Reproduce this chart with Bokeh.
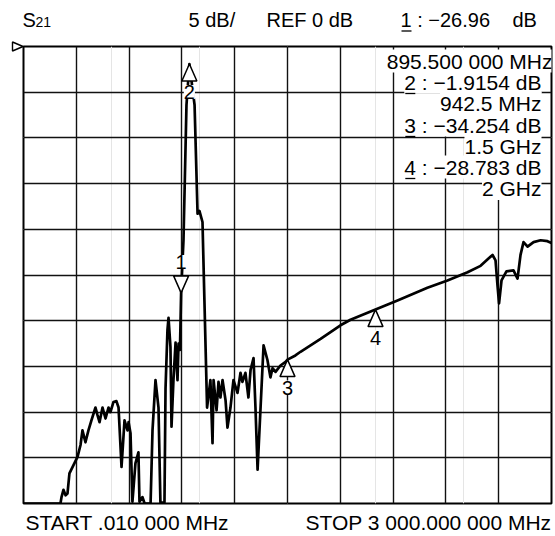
from bokeh.plotting import figure
from bokeh.models import Range1d, Grid, FixedTicker, Label
from bokeh.core.properties import value
from bokeh.embed import file_html
from bokeh.resources import INLINE

FONT = "Liberation Sans"

# ---------------- data ----------------
freq_mhz = [0.01, 210, 216, 227, 239, 250, 261, 284, 307, 324, 335, 352, 369, 386, 409, 420, 432,
            449, 466, 483, 494, 511, 528, 540, 557, 574, 591, 597, 608, 619, 636, 653, 659, 676,
            688, 722, 733, 750, 767, 778, 801, 807, 818, 824, 835, 841, 852, 864, 875, 881, 889,
            895.5, 909, 926, 942.5, 972, 989, 1000, 1017, 1028, 1043, 1062, 1074, 1080, 1097,
            1108, 1119, 1131, 1148, 1159, 1176, 1193, 1216, 1233, 1244, 1261, 1278, 1290, 1307,
            1318, 1330, 1347, 1364, 1386, 1403, 1415, 1432, 1460, 1489, 1500, 1545, 1574, 1688,
            1801, 1858, 2000, 2125, 2295, 2409, 2523, 2597, 2642, 2665, 2682, 2693, 2702, 2716,
            2744, 2784, 2807, 2824, 2841, 2864, 2898, 2938, 2977, 3000]
s21_db = [-50.0, -50.0, -49.3, -48.5, -49.1, -48.9, -46.7, -45.8, -44.9, -43.6, -42.0, -43.3,
          -42.0, -40.9, -39.5, -40.3, -41.1, -39.5, -40.7, -39.5, -40.0, -38.9, -38.8, -39.5,
          -46.0, -40.9, -42.0, -41.1, -42.3, -49.8, -45.6, -44.4, -49.8, -49.3, -50.0, -50.0,
          -42.0, -36.5, -39.5, -49.9, -49.9, -37.4, -31.0, -29.7, -32.9, -41.6, -36.5, -32.4,
          -36.5, -32.5, -33.2, -26.96, -21.2, -6.4, -1.9154, -6.4, -18.3, -18.0, -19.2, -27.8,
          -39.5, -36.5, -43.4, -36.5, -39.8, -36.7, -38.4, -36.5, -38.7, -41.7, -39.5, -36.5,
          -37.9, -35.7, -36.7, -35.7, -38.4, -35.4, -34.1, -39.5, -46.3, -39.5, -32.7, -34.3,
          -36.2, -35.2, -35.6, -34.9, -34.5, -34.254, -33.8, -33.4, -32.0, -30.5, -29.9,
          -28.783, -27.8, -26.4, -25.6, -24.7, -24.0, -23.2, -22.8, -23.4, -26.1, -28.1, -25.6,
          -24.6, -24.5, -25.4, -22.8, -21.4, -21.9, -21.4, -21.2, -21.3, -21.5]

marker_ids = ["1", "2", "3", "4"]
marker_freq_mhz = [895.5, 942.5, 1500.0, 2000.0]
marker_db = [-26.96, -1.9154, -34.254, -28.783]
marker_points_down = [True, False, False, False]

start_mhz = 0.010
stop_mhz = 3000.0
ref_db = 0.0
db_per_div = 5.0
n_div = 10

header_param = "S"
header_param_sub = "21"
header_scale = "5 dB/"
header_ref = "REF 0 dB"
header_marker_text = "1 : \u221226.96"
header_marker_unit = "dB"
readout_lines = ["895.500 000 MHz", "2 : \u22121.9154 dB", "942.5 MHz",
                 "3 : \u221234.254 dB", "1.5 GHz", "4 : \u221228.783 dB", "2 GHz"]
readout_has_id = [False, True, False, True, False, True, False]
start_label = "START .010 000 MHz"
stop_label = "STOP 3 000.000 000 MHz"

# ---------------- layout ----------------
W, H = 555, 536
BL, BR, BT, BB = 23, 4, 46, 33
FW, FH = W - BL - BR, H - BT - BB
y_lo = ref_db - n_div * db_per_div
BASE_SHIFT = 0.4  # renderer draws the alphabetic baseline ~0.4em lower; compensate


def dxp(px):
    return (stop_mhz - start_mhz) / FW * px


def dyp(py):
    return (ref_db - y_lo) / FH * py


def X(sx):
    return start_mhz + dxp(sx - BL)


def Y(sy):
    return ref_db - dyp(sy - BT)


ARIAL = {' ': .278, ':': .278, '.': .278, '\u2212': .584, 'd': .556, 'B': .667,
         'M': .833, 'H': .722, 'z': .5, 'G': .778}


def text_w(s, size):
    return sum(ARIAL.get(c, .556) for c in s) * size


p = figure(width=W, height=H, x_range=Range1d(start_mhz, stop_mhz), y_range=Range1d(y_lo, ref_db),
           x_axis_location=None, y_axis_location=None, output_backend="svg", toolbar_location=None,
           min_border_left=BL, min_border_right=BR, min_border_top=BT, min_border_bottom=BB)
p.background_fill_color = "white"
p.border_fill_color = "white"
p.outline_line_color = "black"
p.outline_line_width = 2

x_grid = [start_mhz + i * (stop_mhz - start_mhz) / n_div for i in range(1, n_div)]
y_grid = [ref_db - i * db_per_div for i in range(1, n_div)]
p.add_layout(Grid(dimension=0, ticker=FixedTicker(ticks=x_grid), grid_line_color="#111111", grid_line_width=1.4))
p.add_layout(Grid(dimension=1, ticker=FixedTicker(ticks=y_grid), grid_line_color="#111111", grid_line_width=1.4))

p.line(freq_mhz, s21_db, line_color="black", line_width=2.7, line_join="round")

# marker triangles
hw, th = dxp(7.5), dyp(17)
txs, tys = [], []
for f, d, down in zip(marker_freq_mhz, marker_db, marker_points_down):
    txs.append([f, f - hw, f + hw])
    tys.append([d, d + th, d + th] if down else [d, d - th, d - th])
p.patches(txs, tys, fill_color="white", line_color="black", line_width=1.5)

for mid, f, d, down in zip(marker_ids, marker_freq_mhz, marker_db, marker_points_down):
    ly = d + dyp(23 + 8) if down else d - dyp(36 - 8)
    p.add_layout(Label(x=f, y=ly, text=mid, text_font=FONT, text_font_size="20px", text_align="center",
                       text_baseline="alphabetic", text_color="black", background_fill_color="white"))


def lab(text, sx, sy, size, align="left", bg=None):
    p.add_layout(Label(x=X(sx), y=Y(sy - BASE_SHIFT * size), text=text, text_font=FONT,
                       text_font_size=f"{size}px", text_align=align, text_baseline="alphabetic",
                       text_color="black", background_fill_color=bg))


def outside_text(text, sx, sy, size, align="left"):
    p.text(x=[X(sx)], y=[Y(sy - BASE_SHIFT * size)], text=[text], text_font=value(FONT),
           text_font_size=value(f"{size}px"), text_align=align, text_baseline="alphabetic",
           text_color="black", level="overlay")


# header
outside_text(header_param, 22, 27, 20)
outside_text(header_param_sub, 35, 27.5, 14)
outside_text(header_scale, 188, 27, 20)
outside_text(header_ref, 266, 27, 20)
outside_text(header_marker_text, 400, 27, 20)
outside_text(header_marker_unit, 512, 27, 20)
p.segment(x0=[X(401)], y0=[Y(30.5)], x1=[X(411)], y1=[Y(30.5)], line_color="black", line_width=1.3,
          level="overlay")

# reference level indicator
p.patch([X(12), X(12), X(22.5)], [ref_db + dyp(4.5), ref_db - dyp(4.5), ref_db],
        fill_color="white", line_color="black", line_width=1.4, level="overlay")

# readout box
row_base = [69, 90, 111.5, 133, 154, 175, 196.5]
ux0, ux1, uy = [], [], []
for i, (txt, has_id) in enumerate(zip(readout_lines, readout_has_id)):
    right = 552 if i == 0 else 541
    lab(txt, right, row_base[i], 21, align="right", bg="white")
    if has_id:
        left = right - text_w(txt, 21)
        ux0.append(X(left + 1)); ux1.append(X(left + 11)); uy.append(Y(row_base[i] + 3))
p.segment(x0=ux0, y0=uy, x1=ux1, y1=uy, line_color="black", line_width=1.3, level="overlay")

# footer
outside_text(start_label, 25, 530, 21)
outside_text(stop_label, 551, 530, 21, align="right")

open("out.html", "w").write(file_html(p, INLINE))
